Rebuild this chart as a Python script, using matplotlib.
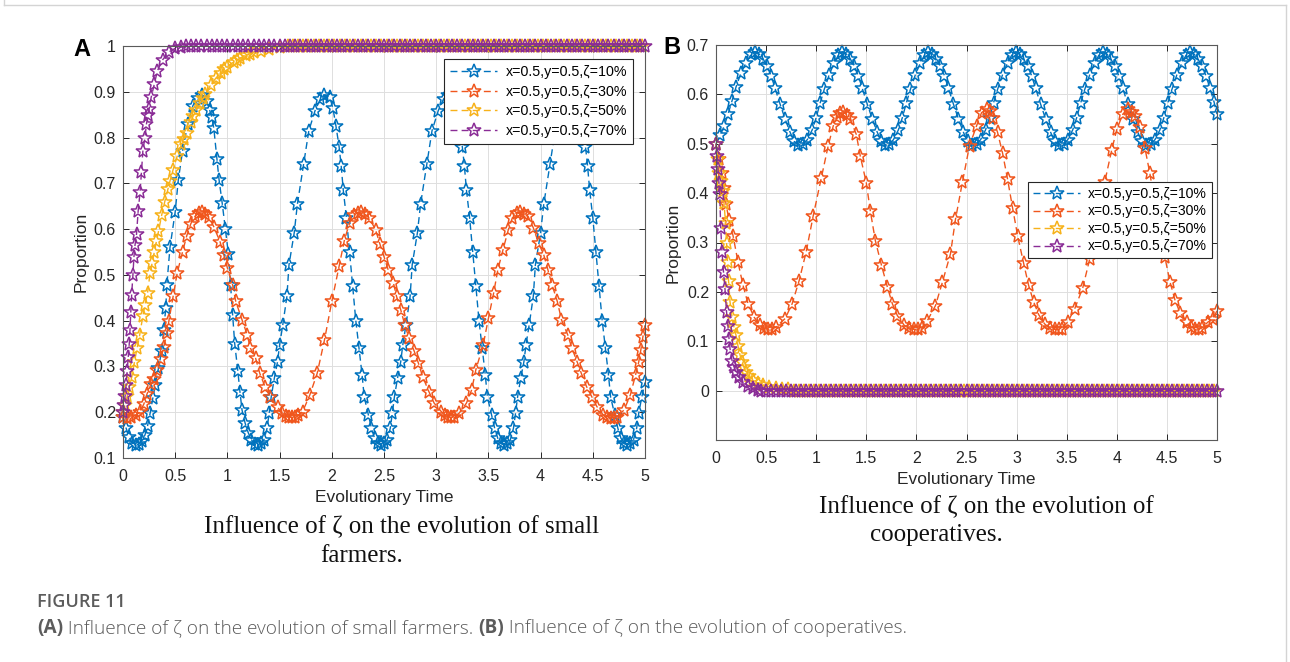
import matplotlib
matplotlib.use("Agg")
import matplotlib.pyplot as plt
from matplotlib.lines import Line2D

# ---------------- data ----------------
LABELS = ["x=0.5,y=0.5,\u03b6=10%", "x=0.5,y=0.5,\u03b6=30%",
          "x=0.5,y=0.5,\u03b6=50%", "x=0.5,y=0.5,\u03b6=70%"]
COLORS = ["#0072BD", "#F0561D", "#F7B21A", "#8A2C96"]

X_TICKS = [0, 0.5, 1, 1.5, 2, 2.5, 3, 3.5, 4, 4.5, 5]
X_TICK_LABELS = ["0", "0.5", "1", "1.5", "2", "2.5", "3", "3.5", "4", "4.5", "5"]
A_Y_TICKS = [0.1, 0.2, 0.3, 0.4, 0.5, 0.6, 0.7, 0.8, 0.9, 1.0]
A_Y_TICK_LABELS = ["0.1", "0.2", "0.3", "0.4", "0.5", "0.6", "0.7", "0.8", "0.9", "1"]
B_Y_TICKS = [0, 0.1, 0.2, 0.3, 0.4, 0.5, 0.6, 0.7]
B_Y_TICK_LABELS = ["0", "0.1", "0.2", "0.3", "0.4", "0.5", "0.6", "0.7"]

# solver time steps once the curves have settled (dense, regular)
TAIL_T1 = [0.45, 0.50, 0.55, 0.60, 0.65, 0.70, 0.75, 0.80, 0.85, 0.90,
           0.95, 1.00, 1.05, 1.10, 1.15, 1.20, 1.25, 1.30, 1.35, 1.40,
           1.45, 1.50, 1.55, 1.60, 1.65, 1.70, 1.75, 1.80, 1.85, 1.90,
           1.95, 2.00, 2.05, 2.10, 2.15, 2.20, 2.25, 2.30, 2.35, 2.40,
           2.45, 2.50, 2.55, 2.60, 2.65, 2.70, 2.75, 2.80, 2.85, 2.90,
           2.95, 3.00, 3.05, 3.10, 3.15, 3.20, 3.25, 3.30, 3.35, 3.40,
           3.45, 3.50, 3.55, 3.60, 3.65, 3.70, 3.75, 3.80, 3.85, 3.90,
           3.95, 4.00, 4.05, 4.10, 4.15, 4.20, 4.25, 4.30, 4.35, 4.40,
           4.45, 4.50, 4.55, 4.60, 4.65, 4.70, 4.75, 4.80, 4.85, 4.90,
           4.95, 5.00]
TAIL_T2 = [0.475, 0.525, 0.575, 0.625, 0.675, 0.725, 0.775, 0.825, 0.875, 0.925,
           0.975, 1.025, 1.075, 1.125, 1.175, 1.225, 1.275, 1.325, 1.375, 1.425,
           1.475, 1.525, 1.575, 1.625, 1.675, 1.725, 1.775, 1.825, 1.875, 1.925,
           1.975, 2.025, 2.075, 2.125, 2.175, 2.225, 2.275, 2.325, 2.375, 2.425,
           2.475, 2.525, 2.575, 2.625, 2.675, 2.725, 2.775, 2.825, 2.875, 2.925,
           2.975, 3.025, 3.075, 3.125, 3.175, 3.225, 3.275, 3.325, 3.375, 3.425,
           3.475, 3.525, 3.575, 3.625, 3.675, 3.725, 3.775, 3.825, 3.875, 3.925,
           3.975, 4.025, 4.075, 4.125, 4.175, 4.225, 4.275, 4.325, 4.375, 4.425,
           4.475, 4.525, 4.575, 4.625, 4.675, 4.725, 4.775, 4.825, 4.875, 4.925,
           4.975]
A_TAIL_LEVEL = 1.0
B_TAIL_LEVEL = 0.0

# panel A: small farmers
A_BLUE_T = [0.00, 0.03, 0.06, 0.09, 0.12, 0.15, 0.18, 0.21, 0.235, 0.26,
            0.285, 0.31, 0.34, 0.37, 0.39, 0.41, 0.42, 0.45, 0.50, 0.53,
            0.57, 0.62, 0.67, 0.72, 0.76, 0.80, 0.83, 0.85, 0.87, 0.90,
            0.92, 0.95, 0.98, 1.01, 1.03, 1.05, 1.07, 1.10, 1.12, 1.14,
            1.17, 1.20, 1.23, 1.26,
            1.29, 1.32, 1.35, 1.38, 1.40, 1.42, 1.45, 1.48, 1.50, 1.53,
            1.57, 1.59, 1.64, 1.67, 1.73, 1.78, 1.84, 1.89, 1.93,
            1.98, 2.01, 2.04, 2.07, 2.09, 2.11, 2.14, 2.17, 2.20, 2.23,
            2.26, 2.29, 2.31, 2.35, 2.38, 2.41, 2.44,
            2.47, 2.50, 2.53, 2.56, 2.58, 2.60, 2.63, 2.66, 2.68, 2.71,
            2.75, 2.77, 2.82, 2.85, 2.91, 2.96, 3.02, 3.07, 3.11,
            3.16, 3.19, 3.22, 3.25, 3.27, 3.29, 3.32, 3.35, 3.38, 3.41,
            3.44, 3.47, 3.49, 3.53, 3.56, 3.59, 3.62,
            3.65, 3.68, 3.71, 3.74, 3.76, 3.78, 3.81, 3.84, 3.86, 3.89,
            3.93, 3.95, 4.00, 4.03, 4.09, 4.14, 4.20, 4.25, 4.29,
            4.34, 4.37, 4.40, 4.43, 4.45, 4.47, 4.50, 4.53, 4.56, 4.59,
            4.62, 4.65, 4.67, 4.71, 4.74, 4.77, 4.80,
            4.83, 4.86, 4.89, 4.92, 4.94, 4.97, 5.00]
A_BLUE_Y = [0.190, 0.165, 0.145, 0.133, 0.128, 0.130, 0.138, 0.150, 0.170, 0.198,
            0.230, 0.260, 0.297, 0.333, 0.380, 0.428, 0.478, 0.560, 0.638, 0.708,
            0.770, 0.830, 0.870, 0.887, 0.893, 0.880, 0.860, 0.845, 0.820, 0.754,
            0.708, 0.657, 0.600, 0.545, 0.478, 0.413, 0.350, 0.290, 0.245, 0.205,
            0.176, 0.155, 0.140, 0.130,
            0.128, 0.132, 0.140, 0.165, 0.198, 0.234, 0.275, 0.310, 0.347, 0.390,
            0.453, 0.522, 0.592, 0.654, 0.742, 0.815, 0.859, 0.884, 0.893,
            0.888, 0.865, 0.825, 0.780, 0.738, 0.685, 0.625, 0.550, 0.475, 0.400,
            0.340, 0.282, 0.234, 0.194, 0.165, 0.143, 0.132,
            0.128, 0.132, 0.140, 0.165, 0.198, 0.234, 0.275, 0.310, 0.347, 0.390,
            0.453, 0.522, 0.592, 0.654, 0.742, 0.815, 0.859, 0.884, 0.893,
            0.888, 0.865, 0.825, 0.780, 0.738, 0.685, 0.625, 0.550, 0.475, 0.400,
            0.340, 0.282, 0.234, 0.194, 0.165, 0.143, 0.132,
            0.128, 0.132, 0.140, 0.165, 0.198, 0.234, 0.275, 0.310, 0.347, 0.390,
            0.453, 0.522, 0.592, 0.654, 0.742, 0.815, 0.859, 0.884, 0.893,
            0.888, 0.865, 0.825, 0.780, 0.738, 0.685, 0.625, 0.550, 0.475, 0.400,
            0.340, 0.282, 0.234, 0.194, 0.165, 0.143, 0.132,
            0.128, 0.132, 0.140, 0.165, 0.198, 0.234, 0.265]

A_ORANGE_T = [0.00, 0.04, 0.08, 0.12, 0.16, 0.20, 0.23, 0.27, 0.30, 0.33,
              0.36, 0.39, 0.42, 0.44, 0.48, 0.52, 0.57, 0.61, 0.65, 0.69,
              0.73, 0.76, 0.79, 0.82, 0.87, 0.93, 0.965, 1.00, 1.05, 1.08,
              1.14, 1.19, 1.22, 1.27, 1.31, 1.36, 1.41, 1.48, 1.52, 1.56,
              1.59, 1.62, 1.65, 1.68, 1.72, 1.79, 1.86, 1.93, 2.00, 2.07,
              2.12, 2.17, 2.21, 2.25, 2.28, 2.32, 2.36, 2.42, 2.46, 2.50,
              2.54, 2.59, 2.62, 2.66, 2.70, 2.74, 2.79, 2.83, 2.87, 2.93,
              2.98, 3.05, 3.08, 3.11, 3.14, 3.17, 3.22, 3.29, 3.34, 3.38,
              3.45, 3.50, 3.55, 3.59, 3.64, 3.69, 3.73, 3.77, 3.80, 3.84,
              3.88, 3.93, 3.98, 4.03, 4.07, 4.11, 4.16, 4.20, 4.26, 4.30,
              4.35, 4.39, 4.44, 4.49, 4.54, 4.60, 4.64, 4.67, 4.70, 4.73,
              4.80, 4.86, 4.91, 4.94, 4.96, 4.98, 5.00]
A_ORANGE_Y = [0.190, 0.188, 0.190, 0.193, 0.200, 0.218, 0.240, 0.262, 0.272, 0.292,
              0.316, 0.342, 0.372, 0.400, 0.453, 0.505, 0.550, 0.585, 0.612, 0.628,
              0.636, 0.637, 0.634, 0.627, 0.605, 0.572, 0.544, 0.515, 0.478, 0.442,
              0.402, 0.369, 0.340, 0.318, 0.285, 0.256, 0.234, 0.212, 0.198, 0.192,
              0.190, 0.189, 0.190, 0.194, 0.201, 0.238, 0.285, 0.358, 0.442, 0.519,
              0.575, 0.614, 0.630, 0.636, 0.637, 0.632, 0.624, 0.598, 0.568, 0.540,
              0.511, 0.483, 0.453, 0.424, 0.390, 0.362, 0.333, 0.307, 0.278, 0.245,
              0.220, 0.201, 0.195, 0.190, 0.189, 0.190, 0.198, 0.220, 0.249, 0.293,
              0.347, 0.405, 0.460, 0.511, 0.555, 0.598, 0.625, 0.635, 0.637, 0.634,
              0.628, 0.603, 0.570, 0.544, 0.511, 0.478, 0.442, 0.402, 0.369, 0.340,
              0.310, 0.285, 0.256, 0.234, 0.212, 0.194, 0.189, 0.187, 0.188, 0.190,
              0.205, 0.238, 0.282, 0.310, 0.336, 0.365, 0.390]

A_YELLOW_T = [0.00, 0.02, 0.04, 0.06, 0.085, 0.11, 0.135, 0.16, 0.19, 0.21,
              0.235, 0.26, 0.28, 0.30, 0.32, 0.34, 0.37, 0.40, 0.43, 0.45,
              0.48, 0.52, 0.56, 0.58, 0.61, 0.65, 0.67, 0.70, 0.74, 0.77,
              0.79, 0.84, 0.89, 0.94, 0.97, 1.00, 1.06, 1.09, 1.12, 1.18,
              1.22, 1.25, 1.32, 1.40, 1.50, 1.58]
A_YELLOW_Y = [0.200, 0.215, 0.235, 0.255, 0.278, 0.310, 0.340, 0.369, 0.410, 0.435,
              0.460, 0.505, 0.527, 0.550, 0.573, 0.595, 0.630, 0.660, 0.687, 0.705,
              0.730, 0.760, 0.785, 0.797, 0.810, 0.835, 0.846, 0.860, 0.875, 0.887,
              0.895, 0.915, 0.930, 0.942, 0.949, 0.955, 0.965, 0.969, 0.973, 0.980,
              0.983, 0.986, 0.990, 0.994, 0.997, 0.999]

A_PURPLE_T = [0.00, 0.01, 0.02, 0.03, 0.04, 0.05, 0.06, 0.067, 0.075, 0.083,
              0.095, 0.105, 0.115, 0.13, 0.145, 0.163, 0.177, 0.19, 0.21, 0.225,
              0.24, 0.25, 0.27, 0.30, 0.33, 0.38, 0.44, 0.50, 0.56, 0.60]
A_PURPLE_Y = [0.200, 0.215, 0.235, 0.260, 0.290, 0.320, 0.350, 0.380, 0.420, 0.457,
              0.500, 0.540, 0.565, 0.590, 0.639, 0.680, 0.725, 0.770, 0.800, 0.830,
              0.850, 0.862, 0.888, 0.917, 0.946, 0.970, 0.987, 0.995, 0.998, 0.999]

# panel B: cooperatives
B_BLUE_T = [0.00, 0.04, 0.08, 0.12, 0.16, 0.20, 0.25, 0.30, 0.35, 0.39,
            0.43, 0.47, 0.51, 0.55, 0.59, 0.64, 0.69, 0.74, 0.78, 0.82,
            0.87, 0.91, 0.96, 1.00, 1.04, 1.08, 1.13, 1.18, 1.22, 1.26,
            1.30, 1.34, 1.38, 1.42, 1.46, 1.51, 1.56, 1.61, 1.65, 1.69,
            1.73, 1.77, 1.82, 1.86, 1.90, 1.94, 1.99, 2.04, 2.08, 2.12,
            2.16, 2.20, 2.24, 2.28, 2.32, 2.37, 2.42, 2.47, 2.51, 2.55,
            2.60, 2.64, 2.69, 2.73, 2.77, 2.81, 2.86, 2.91, 2.95, 2.99,
            3.03, 3.07, 3.11, 3.15, 3.19, 3.24, 3.29, 3.34, 3.38, 3.42,
            3.47, 3.51, 3.56, 3.60, 3.64, 3.68, 3.73, 3.78, 3.82, 3.86,
            3.90, 3.94, 3.98, 4.02, 4.06, 4.11, 4.16, 4.21, 4.25, 4.29,
            4.34, 4.38, 4.43, 4.47, 4.51, 4.55, 4.60, 4.65, 4.69, 4.73,
            4.77, 4.81, 4.85, 4.89, 4.93, 4.97, 5.00]
B_BLUE_Y = [0.500, 0.517, 0.535, 0.560, 0.587, 0.615, 0.644, 0.664, 0.681, 0.686,
            0.682, 0.672, 0.657, 0.638, 0.612, 0.580, 0.550, 0.523, 0.505, 0.497,
            0.500, 0.508, 0.528, 0.553, 0.583, 0.610, 0.640, 0.664, 0.679, 0.686,
            0.682, 0.672, 0.657, 0.638, 0.612, 0.580, 0.550, 0.523, 0.505, 0.497,
            0.500, 0.508, 0.528, 0.553, 0.583, 0.610, 0.640, 0.664, 0.679, 0.686,
            0.682, 0.672, 0.657, 0.638, 0.612, 0.580, 0.550, 0.523, 0.505, 0.497,
            0.500, 0.508, 0.528, 0.553, 0.583, 0.610, 0.640, 0.664, 0.679, 0.686,
            0.682, 0.672, 0.657, 0.638, 0.612, 0.580, 0.550, 0.523, 0.505, 0.497,
            0.500, 0.508, 0.528, 0.553, 0.583, 0.610, 0.640, 0.664, 0.679, 0.686,
            0.682, 0.672, 0.657, 0.638, 0.612, 0.580, 0.550, 0.523, 0.505, 0.497,
            0.500, 0.508, 0.528, 0.553, 0.583, 0.610, 0.640, 0.664, 0.679, 0.686,
            0.682, 0.672, 0.657, 0.638, 0.612, 0.585, 0.560]

B_ORANGE_T = [0.00, 0.03, 0.057, 0.08, 0.10, 0.13, 0.17, 0.22, 0.27, 0.32,
              0.38, 0.44, 0.48, 0.52, 0.56, 0.60, 0.69, 0.76, 0.83, 0.90,
              0.97, 1.05, 1.12, 1.17, 1.21, 1.24, 1.27, 1.31, 1.34, 1.40,
              1.44, 1.50, 1.54, 1.59, 1.65, 1.71, 1.76, 1.81, 1.88, 1.93,
              1.98, 2.02, 2.06, 2.11, 2.19, 2.26, 2.34, 2.39, 2.46, 2.53,
              2.60, 2.65, 2.70, 2.73, 2.76, 2.81, 2.86, 2.91, 2.96, 3.01,
              3.07, 3.12, 3.17, 3.22, 3.28, 3.33, 3.38, 3.42, 3.45, 3.51,
              3.58, 3.66, 3.73, 3.81, 3.88, 3.95, 4.00, 4.06, 4.11, 4.15,
              4.18, 4.23, 4.28, 4.33, 4.38, 4.43, 4.48, 4.53, 4.58, 4.63,
              4.70, 4.74, 4.78, 4.82, 4.85, 4.91, 4.96, 5.00]
B_ORANGE_Y = [0.500, 0.470, 0.440, 0.410, 0.378, 0.345, 0.314, 0.260, 0.213, 0.176,
              0.149, 0.132, 0.126, 0.124, 0.125, 0.129, 0.146, 0.176, 0.223, 0.281,
              0.354, 0.430, 0.496, 0.536, 0.555, 0.563, 0.565, 0.558, 0.550, 0.519,
              0.475, 0.421, 0.364, 0.304, 0.255, 0.210, 0.176, 0.152, 0.132, 0.126,
              0.124, 0.125, 0.127, 0.142, 0.172, 0.220, 0.277, 0.347, 0.423, 0.496,
              0.536, 0.563, 0.570, 0.566, 0.553, 0.523, 0.481, 0.428, 0.370, 0.314,
              0.258, 0.213, 0.180, 0.154, 0.135, 0.127, 0.124, 0.124, 0.125, 0.139,
              0.166, 0.208, 0.267, 0.347, 0.423, 0.488, 0.529, 0.560, 0.570, 0.565,
              0.556, 0.533, 0.492, 0.440, 0.380, 0.320, 0.270, 0.221, 0.184, 0.158,
              0.139, 0.128, 0.124, 0.125, 0.127, 0.139, 0.145, 0.162]

B_YELLOW_T = [0.00, 0.015, 0.03, 0.05, 0.065, 0.08, 0.095, 0.105, 0.115, 0.125,
              0.14, 0.16, 0.18, 0.20, 0.22, 0.24, 0.26, 0.28, 0.30, 0.33,
              0.37, 0.42, 0.47, 0.53, 0.60, 0.66, 0.72]
B_YELLOW_Y = [0.500, 0.470, 0.440, 0.425, 0.405, 0.380, 0.340, 0.300, 0.260, 0.223,
              0.180, 0.150, 0.128, 0.112, 0.090, 0.072, 0.058, 0.047, 0.038, 0.029,
              0.021, 0.015, 0.011, 0.008, 0.006, 0.004, 0.003]

B_PURPLE_T = [0.00, 0.01, 0.02, 0.03, 0.037, 0.047, 0.06, 0.075, 0.09, 0.105,
              0.12, 0.13, 0.14, 0.16, 0.18, 0.20, 0.23, 0.27, 0.32, 0.37, 0.42]
B_PURPLE_Y = [0.500, 0.475, 0.448, 0.420, 0.398, 0.330, 0.280, 0.240, 0.205, 0.160,
              0.130, 0.105, 0.085, 0.061, 0.048, 0.038, 0.027, 0.018, 0.010, 0.005, 0.002]


def with_tail(t, y, tail_t, level):
    # append the flat settled part of a curve after its last read point
    rest = [v for v in tail_t if v > t[-1] + 0.02]
    return t + rest, y + [level] * len(rest)


W, H = 1290, 662
fig = plt.figure(figsize=(W / 100, H / 100), dpi=100)
plt.rcParams["font.family"] = ["Liberation Sans", "DejaVu Sans"]


def style_axes(ax, yticks, ylabels, ylim):
    ax.set_xlim(0, 5)
    ax.set_ylim(*ylim)
    ax.set_xticks(X_TICKS)
    ax.set_xticklabels(X_TICK_LABELS)
    ax.set_yticks(yticks)
    ax.set_yticklabels(ylabels)
    ax.grid(True, color="#dedede", linewidth=0.7)
    ax.set_axisbelow(True)
    ax.tick_params(direction="in", length=4, top=True, right=True,
                   labelsize=11.5, colors="#262626", width=0.7)
    ax.tick_params(axis="x", pad=8)
    ax.tick_params(axis="y", pad=5)
    for s in ax.spines.values():
        s.set_color("#5a5a5a")
        s.set_linewidth(0.8)
    ax.set_xlabel("Evolutionary Time", fontsize=12.5, color="#262626", labelpad=4)
    ax.set_ylabel("Proportion", fontsize=12.5, color="#262626", labelpad=4)


def draw(ax, t, y, color, label):
    ax.plot(t, y, linestyle="--", dashes=(5, 3), linewidth=1.0, color=color,
            marker="*", markersize=10, markerfacecolor="none",
            markeredgewidth=1.1, label=label, clip_on=False)


# panel A
axA = fig.add_axes([123 / W, 1 - 458 / H, 522 / W, 412 / H])
style_axes(axA, A_Y_TICKS, A_Y_TICK_LABELS, (0.1, 1.0))
draw(axA, A_BLUE_T, A_BLUE_Y, COLORS[0], LABELS[0])
draw(axA, A_ORANGE_T, A_ORANGE_Y, COLORS[1], LABELS[1])
t, y = with_tail(A_YELLOW_T, A_YELLOW_Y, TAIL_T2, A_TAIL_LEVEL)
draw(axA, t, y, COLORS[2], LABELS[2])
t, y = with_tail(A_PURPLE_T, A_PURPLE_Y, TAIL_T1, A_TAIL_LEVEL)
draw(axA, t, y, COLORS[3], LABELS[3])
legA = axA.legend(loc="upper right", bbox_to_anchor=(0.977, 0.968), fontsize=10.3,
                  handlelength=3.3, handletextpad=0.6, borderpad=0.4,
                  labelspacing=0.4, borderaxespad=0, fancybox=False, framealpha=1,
                  edgecolor="#262626", numpoints=1)
legA.get_frame().set_linewidth(0.8)

# panel B
axB = fig.add_axes([716 / W, 1 - 440 / H, 501 / W, 395 / H])
style_axes(axB, B_Y_TICKS, B_Y_TICK_LABELS, (-0.1, 0.7))
draw(axB, B_BLUE_T, B_BLUE_Y, COLORS[0], LABELS[0])
draw(axB, B_ORANGE_T, B_ORANGE_Y, COLORS[1], LABELS[1])
t, y = with_tail(B_YELLOW_T, B_YELLOW_Y, TAIL_T2, B_TAIL_LEVEL)
draw(axB, t, y, COLORS[2], LABELS[2])
t, y = with_tail(B_PURPLE_T, B_PURPLE_Y, TAIL_T1, B_TAIL_LEVEL)
draw(axB, t, y, COLORS[3], LABELS[3])
legB = axB.legend(loc="upper right", bbox_to_anchor=(0.99, 0.653), fontsize=10.1,
                  handlelength=3.3, handletextpad=0.6, borderpad=0.35,
                  labelspacing=0.25, borderaxespad=0, fancybox=False, framealpha=1,
                  edgecolor="#262626", numpoints=1)
legB.get_frame().set_linewidth(0.8)

# panel letters
fig.text(82 / W, 1 - 50 / H, "A", fontsize=17, fontweight="bold", ha="center", va="center")
fig.text(672 / W, 1 - 48 / H, "B", fontsize=17, fontweight="bold", ha="center", va="center")

# sub captions (serif, as in the source figure)
serif = dict(family="Liberation Serif", fontsize=18, ha="center", va="center", color="#111111")
fig.text(402 / W, 1 - 527 / H, "Influence of \u03b6 on the evolution of small", **serif)
fig.text(362 / W, 1 - 556 / H, "farmers.", **serif)
fig.text(986 / W, 1 - 507 / H, "Influence of \u03b6 on the evolution of", **serif)
fig.text(936 / W, 1 - 535 / H, "cooperatives.", **serif)

# page caption
fig.text(37 / W, 1 - 602 / H, "FIGURE 11", family="Open Sans", fontsize=13,
         fontweight="semibold", color="#5c5c5c", va="center")
pieces = [("(A)", "bold"), (" Influence of \u03b6 on the evolution of small farmers. ", "light"),
          ("(B)", "bold"), (" Influence of \u03b6 on the evolution of cooperatives.", "light")]
renderer = fig.canvas.get_renderer()
x = 37
for txt, wt in pieces:
    tx = fig.text(x / W, 1 - 628 / H, txt, family="Open Sans", fontsize=13.7,
                  fontweight=wt, color="#5c5c5c", va="center")
    x = tx.get_window_extent(renderer).x1

# outer frame of the page
for xs, ys in [((4, 4), (0, 5)), ((4, 1286), (5, 5)), ((1286, 1286), (5, 662))]:
    fig.add_artist(Line2D([xs[0] / W, xs[1] / W], [1 - ys[0] / H, 1 - ys[1] / H],
                          color="#d4d4d4", linewidth=1.0))

fig.savefig("out.png", dpi=100)
